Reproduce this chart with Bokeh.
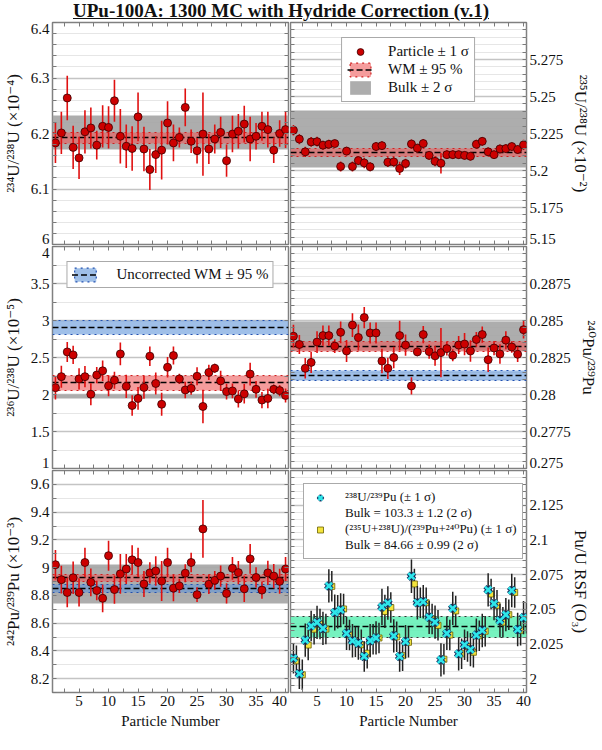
import numpy as np
from bokeh.plotting import figure
from bokeh.models import (Range1d, FixedTicker, NumeralTickFormatter, Legend, LegendItem, Div,
                          LinearAxis)
from bokeh.layouts import gridplot, column
from bokeh.embed import file_html
from bokeh.resources import INLINE

FONT = "Liberation Serif, DejaVu Serif"

# ---------------- data ----------------
particle = np.arange(1, 41)

u234 = [6.183, 6.201, 6.264, 6.175, 6.156, 6.203, 6.210, 6.179, 6.213, 6.211,
        6.259, 6.195, 6.177, 6.173, 6.230, 6.172, 6.135, 6.162, 6.170, 6.219,
        6.183, 6.193, 6.247, 6.186, 6.169, 6.199, 6.172, 6.190, 6.202, 6.151,
        6.199, 6.204, 6.217, 6.190, 6.195, 6.213, 6.207, 6.170, 6.200, 6.207]
u234_err = [0.036, 0.038, 0.040, 0.039, 0.038, 0.039, 0.037, 0.026, 0.038, 0.038,
            0.038, 0.049, 0.039, 0.040, 0.044, 0.040, 0.037, 0.033, 0.053, 0.039,
            0.033, 0.018, 0.034, 0.021, 0.023, 0.075, 0.027, 0.026, 0.028, 0.029,
            0.033, 0.031, 0.033, 0.040, 0.024, 0.026, 0.032, 0.023, 0.024, 0.033]

u235 = [5.2272, 5.2212, 5.2126, 5.2193, 5.2195, 5.2171, 5.2177, 5.2182, 5.2027, 5.2131,
        5.2027, 5.2067, 5.2051, 5.2025, 5.2162, 5.2168, 5.2056, 5.2058, 5.2014, 5.2047,
        5.2179, 5.2151, 5.2182, 5.2102, 5.2062, 5.2049, 5.2107, 5.2107, 5.2107, 5.2102,
        5.2096, 5.2177, 5.2197, 5.2126, 5.2107, 5.2146, 5.2148, 5.2162, 5.2142, 5.2173]
u235_err = [0.0035, 0.0035, 0.0035, 0.0033, 0.0033, 0.0030, 0.0030, 0.0025, 0.0033, 0.0030,
            0.0033, 0.0030, 0.0035, 0.0030, 0.0030, 0.0030, 0.0033, 0.0033, 0.0045, 0.0033,
            0.0030, 0.0030, 0.0030, 0.0030, 0.0033, 0.0070, 0.0030, 0.0030, 0.0028, 0.0028,
            0.0028, 0.0030, 0.0030, 0.0030, 0.0028, 0.0030, 0.0030, 0.0028, 0.0028, 0.0035]

u236 = [2.092, 2.241, 2.575, 2.535, 2.211, 2.241, 2.004, 2.263, 2.320, 2.118,
        2.193, 2.548, 2.110, 1.851, 1.947, 2.096, 2.518, 2.149, 1.868, 2.368,
        2.526, 2.211, 2.061, 2.083, 2.246, 1.838, 2.298, 2.355, 2.184, 2.039,
        2.048, 1.939, 2.009, 2.276, 2.070, 1.925, 1.947, 2.070, 2.053, 1.987]
u236_err = [0.158, 0.149, 0.136, 0.123, 0.143, 0.143, 0.149, 0.110, 0.138, 0.143,
            0.114, 0.154, 0.158, 0.138, 0.154, 0.154, 0.132, 0.149, 0.156, 0.138,
            0.121, 0.070, 0.110, 0.088, 0.121, 0.226, 0.103, 0.061, 0.138, 0.105,
            0.099, 0.116, 0.132, 0.154, 0.114, 0.110, 0.132, 0.066, 0.075, 0.094]

pu240 = [0.28394, 0.28338, 0.28177, 0.28217, 0.28354, 0.28398, 0.28398, 0.28327, 0.28420, 0.28294,
         0.28469, 0.28385, 0.28520, 0.28416, 0.28416, 0.28226, 0.28177, 0.28250, 0.28398, 0.28334,
         0.28058, 0.28288, 0.28405, 0.28290, 0.28261, 0.28283, 0.28310, 0.28265, 0.28334, 0.28341,
         0.28294, 0.28372, 0.28405, 0.28235, 0.28314, 0.28274, 0.28367, 0.28321, 0.28272, 0.28438]
pu240_err = [0.00077, 0.00064, 0.00069, 0.00072, 0.00074, 0.00069, 0.00069, 0.00046, 0.00074, 0.00075,
             0.00080, 0.00088, 0.00072, 0.00071, 0.00071, 0.00083, 0.00072, 0.00072, 0.00100, 0.00072,
             0.00058, 0.00030, 0.00058, 0.00048, 0.00066, 0.00166, 0.00046, 0.00040, 0.00061, 0.00075,
             0.00072, 0.00050, 0.00055, 0.00083, 0.00048, 0.00066, 0.00061, 0.00039, 0.00053, 0.00059]

pu242 = [9.021, 8.913, 8.821, 8.927, 8.821, 9.037, 8.894, 8.835, 8.779, 9.086,
         8.842, 8.955, 8.990, 9.056, 9.037, 8.882, 8.962, 8.976, 8.903, 9.037,
         8.852, 8.868, 8.960, 9.037, 8.805, 9.279, 8.880, 8.908, 8.939, 8.814,
         8.995, 8.964, 8.847, 9.063, 8.929, 8.838, 8.962, 8.939, 8.901, 8.990]
pu242_err = [0.106, 0.100, 0.106, 0.117, 0.102, 0.106, 0.100, 0.070, 0.100, 0.108,
             0.102, 0.144, 0.108, 0.106, 0.106, 0.094, 0.076, 0.106, 0.144, 0.106,
             0.094, 0.050, 0.065, 0.070, 0.053, 0.208, 0.070, 0.068, 0.076, 0.073,
             0.082, 0.084, 0.094, 0.108, 0.073, 0.062, 0.088, 0.088, 0.090, 0.087]

rsf_u238 = [2.0147, 2.0035, 2.0277, 2.0379, 2.0405, 2.0362, 2.0668, 2.0477, 2.0495, 2.0326,
            2.0273, 2.0256, 2.0160, 2.0274, 2.0293, 2.0517, 2.0545, 2.0308, 2.0160, 2.0267,
            2.0738, 2.0547, 2.0554, 2.0442, 2.0407, 2.0135, 2.0326, 2.0507, 2.0179, 2.0244,
            2.0209, 2.0314, 2.0347, 2.0640, 2.0540, 2.0419, 2.0461, 2.0635, 2.0354, 2.0440]
rsf_u238_err = [0.011, 0.011, 0.012, 0.011, 0.012, 0.012, 0.012, 0.013, 0.012, 0.012,
                0.012, 0.012, 0.011, 0.012, 0.012, 0.013, 0.012, 0.012, 0.011, 0.012,
                0.012, 0.012, 0.012, 0.012, 0.012, 0.012, 0.012, 0.012, 0.012, 0.011,
                0.012, 0.012, 0.012, 0.012, 0.012, 0.012, 0.012, 0.012, 0.012, 0.012]
rsf_sum = [2.0128, 2.0028, 2.0242, 2.0356, 2.0393, 2.0357, 2.0665, 2.0482, 2.0502, 2.0314,
           2.0266, 2.0244, 2.0183, 2.0283, 2.0293, 2.0484, 2.0512, 2.0301, 2.0165, 2.0262,
           2.0682, 2.0547, 2.0547, 2.0430, 2.0384, 2.0140, 2.0314, 2.0488, 2.0179, 2.0232,
           2.0190, 2.0309, 2.0342, 2.0610, 2.0528, 2.0407, 2.0461, 2.0621, 2.0349, 2.0435]
rsf_sum_err = [0.011, 0.011, 0.011, 0.011, 0.011, 0.011, 0.011, 0.012, 0.011, 0.011,
               0.011, 0.011, 0.011, 0.011, 0.011, 0.012, 0.011, 0.011, 0.011, 0.011,
               0.011, 0.011, 0.011, 0.011, 0.011, 0.011, 0.011, 0.011, 0.011, 0.011,
               0.011, 0.011, 0.011, 0.011, 0.011, 0.011, 0.011, 0.011, 0.011, 0.011]

# reference bands: (centre, half-width)
bulk_234, wm_234 = (6.2014, 0.0304), (6.1921, 0.0097)
bulk_235, wm_235 = (5.2213, 0.0190), (5.2122, 0.0029)
bulk_236, wm_236, unc_236 = (1.970, 0.030), (2.158, 0.105), (2.906, 0.092)
bulk_240, wm_240, unc_240 = (0.28395, 0.00095), (0.28326, 0.00033), (0.28128, 0.00032)
bulk_242, wm_242, unc_242 = (8.8825, 0.1385), (8.9265, 0.0235), (8.8495, 0.0305)
wm_rsf = (2.0373, 0.0073)

# axes
x_ticks = [5, 10, 15, 20, 25, 30, 35, 40]
x_minor = [2.5, 5, 7.5, 10, 12.5, 15, 17.5, 20, 22.5, 25, 27.5, 30, 32.5, 35, 37.5, 40]
XR = (0.5, 40.5)
yr_234, yt_234 = (6.0, 6.4), [6.0, 6.1, 6.2, 6.3, 6.4]
yr_235, yt_235 = (5.15, 5.3), [5.15, 5.175, 5.2, 5.225, 5.25, 5.275]
yr_236, yt_236 = (1.0, 4.0), [1.0, 1.5, 2.0, 2.5, 3.0, 3.5, 4.0]
yr_240, yt_240 = (0.275, 0.29), [0.275, 0.2775, 0.28, 0.2825, 0.285, 0.2875]
yr_242, yt_242 = (8.1, 9.7), [8.2, 8.4, 8.6, 8.8, 9.0, 9.2, 9.4, 9.6]
yr_rsf, yt_rsf = (1.99, 2.15), [2.0, 2.025, 2.05, 2.075, 2.1, 2.125]

# ---------------- styling ----------------
FW, FH = 236, 222
LEFT_B, RIGHT_B, BOTTOM_B = 44, 64, 40
TICK_PX, LABEL_PX = "15px", "17px"
EDGE_PX = 6          # edge tick labels are pulled this far inside the panel
RED_PT, RED_ERR = "#cc0000", "#e01010"
TICK_COL = "#7a7a7a"
MAIN_X = {}


def style_axis(ax):
    ax.axis_line_color = None
    ax.major_tick_in = 0
    ax.major_tick_out = 0
    ax.minor_tick_in = 4
    ax.minor_tick_out = 0
    ax.minor_tick_line_color = TICK_COL
    ax.major_label_text_font = FONT
    ax.major_label_text_font_size = TICK_PX
    ax.major_label_text_color = "#111111"
    ax.major_label_standoff = 3
    ax.axis_label_text_font = FONT
    ax.axis_label_text_font_size = LABEL_PX
    ax.axis_label_text_font_style = "normal"
    ax.axis_label_text_color = "#111111"
    ax.axis_label_standoff = 5


def mirror_axis(p, minor, loc):
    # tick marks only (no labels) on the opposite edges of the frame
    ax = LinearAxis(ticker=FixedTicker(ticks=[], minor_ticks=minor),
                    axis_line_color=None, major_tick_in=0, major_tick_out=0,
                    minor_tick_in=4, minor_tick_out=0, minor_tick_line_color=TICK_COL,
                    major_label_standoff=0, axis_label_standoff=0)
    p.add_layout(ax, loc)


def make_panel(name, yr, yt, minor_step, side, bottom, ylabel):
    p = figure(frame_width=FW, frame_height=FH, x_range=Range1d(*XR), y_range=Range1d(*yr),
               output_backend="svg", toolbar_location=None,
               x_axis_location="below" if bottom else None, y_axis_location=side,
               min_border=0)
    p.min_border_left = LEFT_B if side == "left" else 1
    p.min_border_right = 1 if side == "left" else RIGHT_B
    p.min_border_top = 1
    p.min_border_bottom = BOTTOM_B if bottom else 1
    p.outline_line_color = "#808080"
    p.outline_line_width = 1.5
    p.background_fill_color = "white"
    p.border_fill_color = "white"
    p.xgrid.visible = False

    inner = [t for t in yt if yr[0] < t < yr[1]]
    minor = [round(v, 6) for v in np.arange(yr[0], yr[1] + minor_step / 2, minor_step)]
    shift = EDGE_PX * (yr[1] - yr[0]) / FH
    label_ticks, overrides = [], {}
    for t in yt:
        if t == yr[0]:
            s = t + shift
        elif t == yr[1]:
            s = t - shift
        else:
            label_ticks.append(t)
            continue
        label_ticks.append(s)
        overrides[s] = f"{t:g}"
    ya = p.yaxis[0]
    ya.ticker = FixedTicker(ticks=label_ticks, minor_ticks=minor)
    ya.formatter = NumeralTickFormatter(format="0.[0000]")
    ya.major_label_overrides = overrides
    ya.axis_label = ylabel
    p.ygrid.ticker = FixedTicker(ticks=inner, minor_ticks=minor)
    p.ygrid.grid_line_color = "#c4c4c4"
    p.ygrid.grid_line_width = 1.3
    p.ygrid.minor_grid_line_color = "#e6e6e6"
    p.ygrid.minor_grid_line_width = 1
    for ax in p.axis:
        style_axis(ax)
    if bottom:
        xa = p.xaxis[0]
        xa.axis_label = "Particle Number"
        xa.axis_label_text_font_size = TICK_PX
        xa.axis_label_standoff = 4
        MAIN_X[name] = xa
    mirror_axis(p, x_minor, "above")
    if not bottom:
        mirror_axis(p, x_minor, "below")
    mirror_axis(p, minor, "right" if side == "left" else "left")
    return p


def band(p, c, fill, alpha, border):
    lo, hi = c[0] - c[1], c[0] + c[1]
    return p.hstrip(y0=[lo], y1=[hi], fill_color=fill, fill_alpha=alpha,
                    line_color=border if border else "black", line_dash="dotted",
                    line_width=1.2, line_alpha=1 if border else 0)


def centre(p, c):
    return p.hspan(y=[c[0]], line_color="black", line_dash="6 3", line_width=1.4)


def particles(p, y, e):
    y = np.asarray(y)
    e = np.asarray(e)
    p.segment(x0=particle, y0=y - e, x1=particle, y1=y + e, line_color=RED_ERR, line_width=1.6)
    return p.scatter(x=particle, y=y, marker="circle", size=8, fill_color=RED_PT,
                     line_color="#3a0000", line_width=0.8)


def style_legend(leg, size="15px"):
    leg.label_text_font = FONT
    leg.label_text_font_size = size
    leg.label_text_color = "#111111"
    leg.border_line_color = "#555555"
    leg.border_line_width = 1
    leg.background_fill_alpha = 1


GREY, GREY_A = "#a6a6a6", 0.92
RED_BAND, RED_A, RED_EDGE = "#ee5a5a", 0.6, "#d02020"
BLUE_BAND, BLUE_A, BLUE_EDGE = "#5f95d8", 0.6, "#2050b0"

# ---- top-left 234U/238U
tl = make_panel("tl", yr_234, yt_234, 0.02, "left", False, "²³⁴U/²³⁸U (×10⁻⁴)")
band(tl, bulk_234, GREY, GREY_A, None)
band(tl, wm_234, RED_BAND, RED_A, RED_EDGE)
centre(tl, wm_234)
particles(tl, u234, u234_err)

# ---- top-right 235U/238U
tr = make_panel("tr", yr_235, yt_235, 0.005, "right", False, "²³⁵U/²³⁸U (×10⁻²)")
g_tr = band(tr, bulk_235, GREY, GREY_A, None)
r_tr = band(tr, wm_235, RED_BAND, RED_A, RED_EDGE)
d_tr = centre(tr, wm_235)
pt_tr = particles(tr, u235, u235_err)
leg_tr = Legend(items=[LegendItem(label="Particle ± 1 σ", renderers=[pt_tr]),
                       LegendItem(label="WM ± 95 %", renderers=[r_tr, d_tr]),
                       LegendItem(label="Bulk ± 2 σ", renderers=[g_tr])],
                location="top_center", margin=15, padding=5, spacing=1,
                glyph_width=26, glyph_height=17, label_height=17, label_standoff=15)
style_legend(leg_tr)
tr.add_layout(leg_tr)

# ---- middle-left 236U/238U
ml = make_panel("ml", yr_236, yt_236, 0.25, "left", False, "²³⁶U/²³⁸U (×10⁻⁵)")
band(ml, bulk_236, GREY, GREY_A, None)
band(ml, wm_236, RED_BAND, RED_A, RED_EDGE)
centre(ml, wm_236)
b_ml = band(ml, unc_236, BLUE_BAND, BLUE_A, BLUE_EDGE)
d_ml = centre(ml, unc_236)
particles(ml, u236, u236_err)
leg_ml = Legend(items=[LegendItem(label="Uncorrected WM ± 95 %", renderers=[b_ml, d_ml])],
                location="top_center", margin=15, padding=4, spacing=0,
                glyph_width=27, glyph_height=17, label_height=17, label_standoff=18)
style_legend(leg_ml, "15px")
ml.add_layout(leg_ml)

# ---- middle-right 240Pu/239Pu
mr = make_panel("mr", yr_240, yt_240, 0.0005, "right", False, "²⁴⁰Pu/²³⁹Pu")
band(mr, bulk_240, GREY, GREY_A, None)
band(mr, wm_240, RED_BAND, RED_A, RED_EDGE)
centre(mr, wm_240)
band(mr, unc_240, BLUE_BAND, BLUE_A, BLUE_EDGE)
centre(mr, unc_240)
particles(mr, pu240, pu240_err)

# ---- bottom-left 242Pu/239Pu
bl = make_panel("bl", yr_242, yt_242, 0.1, "left", True, "²⁴²Pu/²³⁹Pu (×10⁻³)")
band(bl, bulk_242, GREY, GREY_A, None)
band(bl, wm_242, RED_BAND, RED_A, RED_EDGE)
centre(bl, wm_242)
band(bl, unc_242, BLUE_BAND, BLUE_A, BLUE_EDGE)
centre(bl, unc_242)
particles(bl, pu242, pu242_err)

# ---- bottom-right Pu/U RSF
br = make_panel("br", yr_rsf, yt_rsf, 0.005, "right", True, "Pu/U RSF (O₃)")
band(br, wm_rsf, "#5ef0b4", 0.85, "#303030")
centre(br, wm_rsf)
xs = particle + 0.5
ys, es = np.asarray(rsf_sum), np.asarray(rsf_sum_err)
br.segment(x0=xs, y0=ys - es, x1=xs, y1=ys + es, line_color="#222222", line_width=1.5)
y_sq = br.scatter(x=xs, y=ys, marker="square", size=6, fill_color="#f4e43c",
                  line_color="#6a6000", line_width=0.8)
yc, ec = np.asarray(rsf_u238), np.asarray(rsf_u238_err)
br.segment(x0=particle, y0=yc - ec, x1=particle, y1=yc + ec, line_color="#222222", line_width=1.5)
c_out = br.scatter(x=particle, y=yc, marker="x", size=9, line_color="#143060", line_width=4.5)
c_in = br.scatter(x=particle, y=yc, marker="x", size=9, line_color="#2ee6ea", line_width=2.6)
blank = br.scatter(x=particle, y=yc, marker="circle", size=1, alpha=0)
leg_br = Legend(items=[LegendItem(label="²³⁸U/²³⁹Pu (± 1 σ)", renderers=[c_out, c_in]),
                       LegendItem(label="Bulk = 103.3 ± 1.2 (2 σ)", renderers=[blank]),
                       LegendItem(label="(²³⁵U+²³⁸U)/(²³⁹Pu+²⁴⁰Pu) (± 1 σ)", renderers=[y_sq]),
                       LegendItem(label="Bulk = 84.66 ± 0.99 (2 σ)", renderers=[blank])],
                location="top_left", margin=13, padding=5, spacing=0,
                glyph_width=22, glyph_height=15, label_height=15, label_standoff=14)
style_legend(leg_br, "13px")
br.add_layout(leg_br)

# x tick labels (last label of the left panel pulled inside, like the reference)
xshift = EDGE_PX * (XR[1] - XR[0]) / FW
bl_last = x_ticks[-1] - xshift
MAIN_X["bl"].ticker = FixedTicker(ticks=x_ticks[:-1] + [bl_last], minor_ticks=x_minor)
MAIN_X["bl"].major_label_overrides = {bl_last: f"{x_ticks[-1]}"}
MAIN_X["br"].ticker = FixedTicker(ticks=x_ticks, minor_ticks=x_minor)

title = Div(text="<u>UPu-100A: 1300 MC with Hydride Correction (v.1)</u>",
            width=2 * (LEFT_B + FW + 1), height=21, margin=(0, 0, 0, 0),
            styles={"font-family": FONT, "font-size": "19px", "font-weight": "bold",
                    "text-align": "center", "line-height": "21px", "color": "#111111"})

grid = gridplot([[tl, tr], [ml, mr], [bl, br]], toolbar_location=None)
layout = column(title, grid)

open("out.html", "w").write(file_html(layout, INLINE))
